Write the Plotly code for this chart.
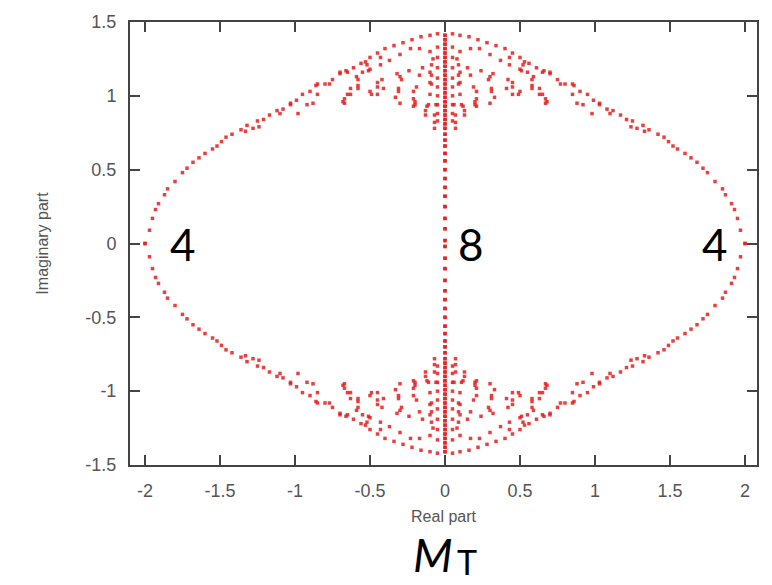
import plotly.graph_objects as go

# Eigenvalue positions, upper-right quadrant (x >= 0, y >= 0).
# The spectrum is symmetric under x -> -x and y -> -y, so the full set is built by reflection.
outer_arc_x = [2.00, 1.97, 1.95, 1.93, 1.91, 1.87, 1.85, 1.80, 1.75, 1.72, 1.68, 1.64, 1.60, 1.55,
               1.52, 1.49, 1.46, 1.42, 1.36, 1.32, 1.28, 1.25, 1.21, 1.17, 1.12, 1.08, 1.03, 0.99,
               0.95, 0.90, 0.86, 0.80, 0.75, 0.70, 0.66, 0.61, 0.56, 0.50, 0.45, 0.40, 0.34, 0.28,
               0.22, 0.16, 0.10, 0.05]
outer_arc_y = [0.00, 0.09, 0.17, 0.23, 0.27, 0.33, 0.37, 0.42, 0.48, 0.51, 0.55, 0.58, 0.61, 0.64,
               0.66, 0.69, 0.72, 0.74, 0.77, 0.80, 0.78, 0.83, 0.84, 0.87, 0.90, 0.91, 0.95, 0.97,
               1.01, 1.03, 1.07, 1.08, 1.11, 1.15, 1.17, 1.19, 1.22, 1.26, 1.29, 1.32, 1.34, 1.36,
               1.38, 1.40, 1.41, 1.42]

inner_arc_x = [0.58, 0.58, 0.63, 0.63, 0.67, 0.67, 0.85, 0.88, 0.92, 0.98, 1.03, 1.10, 1.33, 1.24,
               0.77, 0.85, 0.70]
inner_arc_y = [1.11, 1.07, 1.05, 1.01, 0.98, 0.95, 1.01, 0.95, 0.94, 0.88, 0.94, 0.88, 0.76, 0.79,
               1.08, 1.08, 1.16]

fan_x = [0.10, 0.17, 0.23, 0.30, 0.37, 0.43, 0.51,
         0.09, 0.15, 0.24, 0.32, 0.42,
         0.09, 0.17, 0.29, 0.41, 0.49,
         0.09, 0.19, 0.31, 0.45,
         0.10, 0.21, 0.33,
         0.05, 0.05, 0.05, 0.05, 0.05, 0.05, 0.05, 0.05, 0.05,
         0.07, 0.13, 0.12, 0.21,
         0.43, 0.52, 0.55, 0.65, 0.53, 0.50, 0.59, 0.45, 0.45, 0.50, 0.58, 0.65, 0.68,
         0.30, 0.31, 0.20, 0.21, 0.10, 0.10, 0.08,
         0.07, 0.07, 0.06, 0.11, 0.20, 0.30, 0.13]
fan_y = [1.30, 1.32, 1.32, 1.28, 1.24, 1.21, 1.17,
         1.21, 1.19, 1.17, 1.15, 1.11,
         1.14, 1.14, 1.11, 1.05, 1.01,
         1.08, 1.06, 1.03, 1.01,
         1.01, 0.98, 0.99,
         1.33, 1.26, 1.19, 1.12, 1.06, 1.00, 0.94, 0.88, 0.83,
         0.87, 0.87, 0.93, 0.93,
         1.26, 1.21, 1.16, 1.16, 1.23, 1.18, 1.13, 1.09, 1.06, 1.03, 1.05, 1.01, 0.96,
         1.13, 1.05, 0.96, 1.03, 1.09, 1.16, 1.25,
         0.78, 0.82, 0.94, 0.94, 0.94, 0.95, 0.90]

axis_col_y = [0.02, 0.10, 0.17, 0.25, 0.32, 0.38, 0.44, 0.50, 0.56, 0.61, 0.66, 0.70, 0.74,
              0.78, 0.81, 0.84, 0.87, 0.90, 0.93, 0.96, 0.99, 1.02, 1.05, 1.08, 1.11, 1.14,
              1.17, 1.20, 1.23, 1.26, 1.29, 1.32, 1.35, 1.38, 1.41]

x_ticks = [-2, -1.5, -1, -0.5, 0, 0.5, 1, 1.5, 2]
x_tick_text = ["-2", "-1.5", "-1", "-0.5", "0", "0.5", "1", "1.5", "2"]
y_ticks = [-1.5, -1, -0.5, 0, 0.5, 1, 1.5]
y_tick_text = ["-1.5", "-1", "-0.5", "0", "0.5", "1", "1.5"]

labels_text = ["4", "8", "4"]
labels_x = [-1.75, 0.17, 1.80]
labels_y = [0, 0, 0]

# assemble quadrant then reflect
qx = outer_arc_x + inner_arc_x + fan_x + [0.0] * len(axis_col_y)
qy = outer_arc_y + inner_arc_y + fan_y + axis_col_y
xs, ys = [], []
for sx in (1, -1):
    for sy in (1, -1):
        xs += [sx * v for v in qx]
        ys += [sy * v for v in qy]

fig = go.Figure()
fig.add_trace(go.Scatter(
    x=xs, y=ys, mode="markers",
    marker=dict(symbol="square", size=3.5, color="rgb(228,30,30)", opacity=0.85,
                line=dict(width=0)),
    showlegend=False, hoverinfo="skip"))

tickfont = dict(family="Liberation Sans, Arial, sans-serif", size=18, color="#555555")
titlefont = dict(family="Liberation Sans, Arial, sans-serif", size=16, color="#555555")
fig.update_xaxes(range=[-2.1, 2.08], tickvals=x_ticks, ticktext=x_tick_text,
                 ticks="inside", ticklen=10, tickwidth=2, tickcolor="#444444",
                 showline=True, linewidth=2, linecolor="#444444", mirror="ticks",
                 showgrid=False, zeroline=False, tickfont=tickfont, ticklabelstandoff=8,
                 title=dict(text="Real part", font=titlefont, standoff=11))
fig.update_yaxes(range=[-1.5, 1.5], tickvals=y_ticks, ticktext=y_tick_text,
                 ticks="inside", ticklen=10, tickwidth=2, tickcolor="#444444",
                 showline=True, linewidth=2, linecolor="#444444", mirror="ticks",
                 showgrid=False, zeroline=False, tickfont=tickfont, ticklabelstandoff=8,
                 title=dict(text="Imaginary part", font=titlefont, standoff=33))

for t, x, y in zip(labels_text, labels_x, labels_y):
    fig.add_annotation(x=x, y=y, xref="x", yref="y", text=t, showarrow=False,
                       font=dict(family="Lato, Open Sans, sans-serif", size=44, color="black"),
                       xanchor="center", yanchor="middle")

fig.add_annotation(x=(433 - 130) / 627, y=(465 - 585) / 447, xref="paper", yref="paper",
                   text="<i>M</i>", showarrow=False, xanchor="center", yanchor="bottom",
                   font=dict(family="Lato, Open Sans, sans-serif", size=46, color="black"))
fig.add_annotation(x=(467 - 130) / 627, y=(465 - 585) / 447, xref="paper", yref="paper",
                   text="T", showarrow=False, xanchor="center", yanchor="bottom",
                   font=dict(family="Lato, Open Sans, sans-serif", size=34, color="black"))

fig.update_layout(width=772, height=585, margin=dict(l=130, r=15, t=18, b=120),
                  paper_bgcolor="white", plot_bgcolor="white")

fig.write_html("out.html")
